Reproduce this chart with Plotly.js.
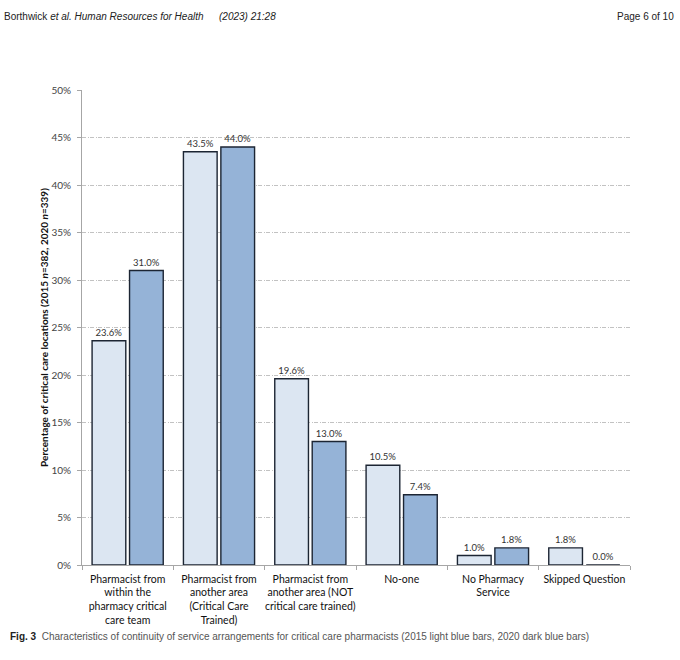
<!DOCTYPE html>
<html>
<head>
<meta charset="utf-8">
<script src="https://cdn.plot.ly/plotly-3.0.1.min.js"></script>
<style>
  html, body { margin: 0; padding: 0; background: #fff; }
  #chart { width: 680px; height: 660px; }
</style>
</head>
<body>
<div id="chart"></div>
<script>
const categories = [
  'Pharmacist from<br>within the<br>pharmacy critical<br>care team',
  'Pharmacist from<br>another area<br>(Critical Care<br>Trained)',
  'Pharmacist from<br>another area (NOT<br>critical care trained)',
  'No-one',
  'No Pharmacy<br>Service',
  'Skipped Question'
];
const values2015 = [23.6, 43.5, 19.6, 10.5, 1.0, 1.8];
const values2020 = [31.0, 44.0, 13.0, 7.4, 1.8, 0.0];

const chartFont = 'Lato';
const pageFont = 'Liberation Sans';

const outline = { color: '#1c2533', width: 1.4 };

const bars2015 = {
  x: categories,
  y: values2015,
  type: 'bar',
  name: '2015',
  marker: { color: '#dce6f2', line: outline },
  texttemplate: '%{y:.1f}%',
  textposition: 'outside',
  textfont: { family: chartFont, size: 9.5, color: '#333' },
  cliponaxis: false,
  hoverinfo: 'none'
};

const bars2020 = {
  x: categories,
  y: values2020,
  type: 'bar',
  name: '2020',
  marker: { color: '#95b3d7', line: outline },
  texttemplate: '%{y:.1f}%',
  textposition: 'outside',
  textfont: { family: chartFont, size: 9.5, color: '#333' },
  cliponaxis: false,
  hoverinfo: 'none'
};

// pixel helpers for page texts placed in paper coordinates
const px = v => (v - 82) / 548;
const py = v => (565 - v) / 475;

const layout = {
  width: 680,
  height: 660,
  margin: { l: 82, r: 50, t: 90, b: 95 },
  paper_bgcolor: '#fff',
  plot_bgcolor: '#fff',
  showlegend: false,
  barmode: 'group',
  bargap: 0.18,
  bargroupgap: 0.1,
  font: { family: chartFont, color: '#222' },
  xaxis: {
    type: 'category',
    showline: true,
    linecolor: '#a6a6a6',
    linewidth: 1,
    ticks: 'outside',
    tickson: 'boundaries',
    ticklen: 4,
    tickcolor: '#a6a6a6',
    tickangle: 0,
    ticklabelstandoff: 4,
    showgrid: false,
    tickfont: { family: chartFont, size: 10.5, color: '#111' },
    fixedrange: true
  },
  yaxis: {
    range: [0, 50],
    dtick: 5,
    ticksuffix: '%',
    showline: true,
    linecolor: '#a6a6a6',
    linewidth: 1,
    ticks: 'outside',
    ticklen: 4,
    tickcolor: '#a6a6a6',
    ticklabelstandoff: 4,
    showgrid: true,
    gridcolor: '#b3b3b3',
    gridwidth: 0.8,
    griddash: '4px,1.5px,1px,1.5px',
    zeroline: false,
    tickfont: { family: chartFont, size: 10, color: '#444' },
    title: {
      text: '<b>Percentage of critical care locations (2015 <i>n</i>=382, 2020 <i>n</i>=339)</b>',
      font: { family: chartFont, size: 10, color: '#111' },
      standoff: 0
    },
    fixedrange: true
  },
  annotations: [
    {
      text: 'Borthwick <i>et al. Human Resources for Health</i>',
      xref: 'paper', yref: 'paper', x: px(2), y: py(16),
      xanchor: 'left', yanchor: 'middle', showarrow: false,
      font: { family: pageFont, size: 10, color: '#222' }
    },
    {
      text: '<i>(2023) 21:28</i>',
      xref: 'paper', yref: 'paper', x: px(217), y: py(16),
      xanchor: 'left', yanchor: 'middle', showarrow: false,
      font: { family: pageFont, size: 10, color: '#222' }
    },
    {
      text: 'Page 6 of 10',
      xref: 'paper', yref: 'paper', x: px(676), y: py(16),
      xanchor: 'right', yanchor: 'middle', showarrow: false,
      font: { family: pageFont, size: 10, color: '#222' }
    },
    {
      text: '<b><span style="color:#222">Fig. 3</span></b>  Characteristics of continuity of service arrangements for critical care pharmacists (2015 light blue bars, 2020 dark blue bars)',
      xref: 'paper', yref: 'paper', x: px(8), y: py(636),
      xanchor: 'left', yanchor: 'middle', showarrow: false,
      font: { family: pageFont, size: 10, color: '#555' }
    }
  ]
};

Plotly.newPlot('chart', [bars2015, bars2020], layout, { displayModeBar: false, staticPlot: true });
</script>
</body>
</html>
